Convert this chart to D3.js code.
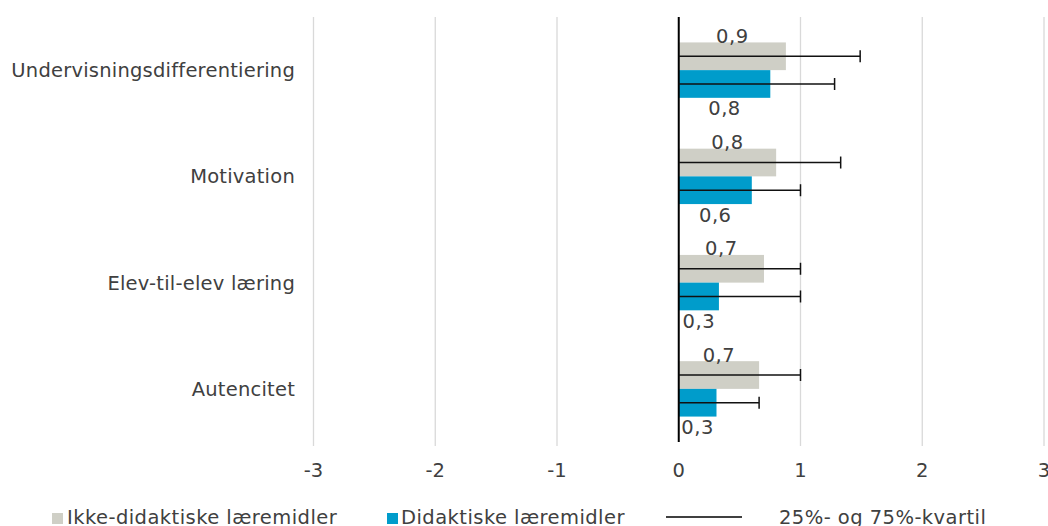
<!DOCTYPE html>
<html><head><meta charset="utf-8">
<script src="https://cdn.jsdelivr.net/npm/d3@7"></script>
<style>body{margin:0;background:#fff;}svg{display:block;font-family:"DejaVu Sans",Verdana,sans-serif;}</style>
</head><body><svg id="c" width="1048" height="526"></svg>
<script>
const categories = ["Undervisningsdifferentiering","Motivation","Elev-til-elev læring","Autencitet"];
const seriesNames = ["Ikke-didaktiske læremidler","Didaktiske læremidler"];
const ikkeDidaktiske = [0.88, 0.80, 0.70, 0.66];
const didaktiske = [0.752, 0.60, 0.33, 0.31];
const kvartilIkke = [1.49, 1.33, 1.0, 1.0];
const kvartilDidaktiske = [1.28, 1.0, 1.0, 0.66];
const xTicks = [-3,-2,-1,0,1,2,3];
const errLegend = "25%- og 75%-kvartil";
const colors = ["#CFCFC6","#009CCB"];
const textColor = "#404040";
const fs = 19.5;

const svg = d3.select("#c");
const x = d3.scaleLinear().domain([-3,3]).range([313.5,1044]);
const y = d3.scaleBand().domain(categories).range([17,442]);
const sub = d3.scaleBand().domain([0,1]).range([0,55.4]);
const off = (y.bandwidth()-55.4)/2;

// gridlines
svg.append("g").selectAll("line").data(xTicks.filter(d=>d!==0)).join("line")
  .attr("x1",d=>x(d)).attr("x2",d=>x(d)).attr("y1",17).attr("y2",446)
  .attr("stroke","#D9D9D9").attr("stroke-width",1.3);

const series = [ikkeDidaktiske, didaktiske];
const errs = [kvartilIkke, kvartilDidaktiske];
series.forEach((vals,si)=>{
  svg.append("g").selectAll("rect").data(vals).join("rect")
    .attr("x",x(0)).attr("width",d=>x(d)-x(0))
    .attr("y",(d,i)=>y(categories[i])+off+sub(si)).attr("height",sub.bandwidth())
    .attr("fill",colors[si]);
});

// zero axis
svg.append("line").attr("x1",x(0)).attr("x2",x(0)).attr("y1",17).attr("y2",442)
  .attr("stroke","#000").attr("stroke-width",2);

// error bars
errs.forEach((vals,si)=>{
  const g = svg.append("g");
  vals.forEach((v,i)=>{
    const cy = y(categories[i])+off+sub(si)+sub.bandwidth()/2;
    g.append("line").attr("x1",x(0)).attr("x2",x(v)).attr("y1",cy).attr("y2",cy).attr("stroke","#111").attr("stroke-width",1.5);
    g.append("line").attr("x1",x(v)).attr("x2",x(v)).attr("y1",cy-6).attr("y2",cy+6).attr("stroke","#111").attr("stroke-width",1.5);
  });
});

// data labels
const fmt = d => d3.format(".1f")(d).replace(".",",");
series.forEach((vals,si)=>{
  svg.append("g").selectAll("text").data(vals).join("text")
    .attr("x",d=>(x(0)+x(d))/2)
    .attr("y",(d,i)=> si===0 ? y(categories[i])+off+0.5 : y(categories[i])+off+55.4+17.5)
    .attr("text-anchor","middle").attr("font-size",fs).attr("fill",textColor)
    .attr("letter-spacing",0.5)
    .text(fmt);
});

// category labels
svg.append("g").selectAll("text").data(categories).join("text")
  .attr("x",295).attr("y",d=>y(d)+y.bandwidth()/2+7)
  .attr("text-anchor","end").attr("font-size",fs).attr("fill",textColor)
  .attr("letter-spacing",0.22).text(d=>d);

// x axis labels
svg.append("g").selectAll("text").data(xTicks).join("text")
  .attr("x",d=>x(d)).attr("y",477).attr("text-anchor","middle")
  .attr("font-size",fs).attr("fill",textColor).text(d=>d);

// legend
const lg = svg.append("g").attr("letter-spacing",0.45);
lg.append("rect").attr("x",52).attr("y",513).attr("width",11).attr("height",11).attr("fill",colors[0]);
lg.append("text").attr("x",67).attr("y",524).attr("font-size",fs).attr("fill",textColor).text(seriesNames[0]);
lg.append("rect").attr("x",387).attr("y",513).attr("width",11).attr("height",11).attr("fill",colors[1]);
lg.append("text").attr("x",401).attr("y",524).attr("font-size",fs).attr("fill",textColor).text(seriesNames[1]);
lg.append("line").attr("x1",666).attr("x2",742).attr("y1",517).attr("y2",517).attr("stroke","#000").attr("stroke-width",1.3);
lg.append("text").attr("x",779).attr("y",524).attr("font-size",fs).attr("fill",textColor).text(errLegend);
</script></body></html>
